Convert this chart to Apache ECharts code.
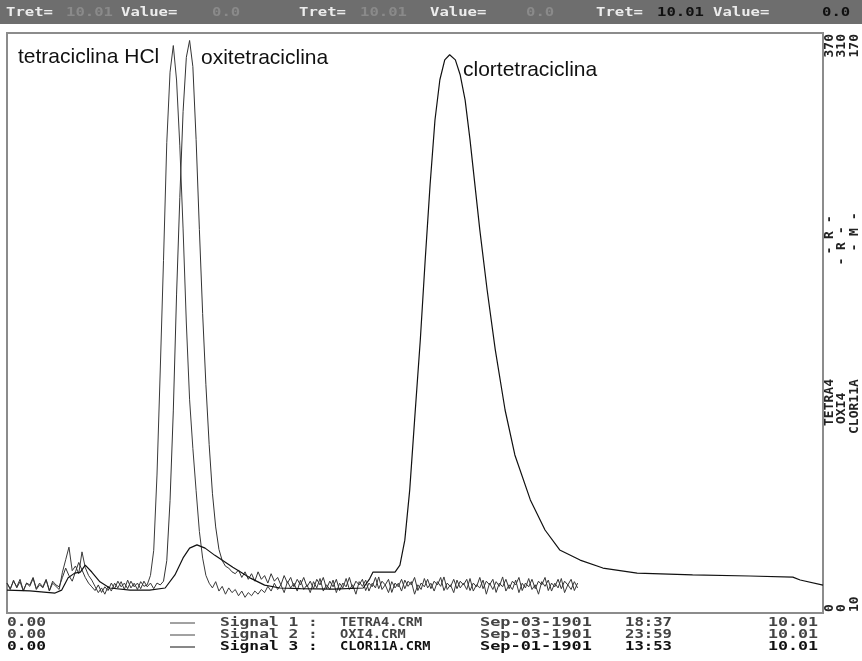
<!DOCTYPE html>
<html>
<head>
<meta charset="utf-8">
<script src="https://cdn.jsdelivr.net/npm/echarts@6/dist/echarts.min.js"></script>
<style>
  html, body { margin: 0; padding: 0; background: #fff; }
  #chart { width: 862px; height: 661px; }
</style>
</head>
<body>
<div id="chart"></div>
<script>
// detector sampling interval (min)
const sampleStep = 0.04;

// Signal 1 : TETRA4.CRM (0..370)
const tetraValues = [
  19,15,21,16,20,14,19,17,22,15,
  18,16,21,14,19,17,15,26,34,42,
  27,30,25,39,29,24,21,17,13,16,
  12,17,14,19,16,20,15,21,16,19,
  15,20,17,18,24,40,88,155,225,300,
  345,362,340,298,245,185,136,105,78,52,
  35,24,19,16,20,14,17,12,16,13,
  15,11,14,10,13,11,14,12,15,13,
  17,14,19,15,18,13,20,16,19,14,
  21,15,18,13,20,16,22,14,18,15,
  21,13,19,16,22,15,18,12,20,17,
  21,14,19,16,23,15,18,13,20,16,
  19,14,21,17,20,12,18,15,22,16,
  19,14,20,17,23,15,18,13,21,16,
  19,15,22,14,18,16,21,12,19,15,
  20,17,23,14,18,15,21,13,19,16,
  22,15,18,12,20,17,21,14,19,16,
  22,13,18,15,20,16
];

// Signal 2 : OXI4.CRM (0..310)
const oxiValues = [
  16,13,17,14,18,12,16,15,19,13,
  16,14,18,12,17,15,14,19,24,20,
  17,22,27,23,19,16,14,12,15,11,
  14,12,16,13,17,14,16,13,17,14,
  16,13,17,14,16,13,16,15,17,28,
  60,108,170,222,268,297,306,292,253,205,
  160,122,90,64,46,34,28,25,24,22,
  21,23,19,22,18,21,17,22,18,20,
  16,21,17,19,15,20,16,19,14,18,
  15,19,14,17,13,18,15,19,13,17,
  14,18,12,16,14,19,13,17,15,18,
  12,16,14,19,13,17,15,18,11,16,
  14,18,13,17,15,19,12,16,14,18,
  13,17,15,19,12,16,14,18,13,17,
  15,18,12,16,14,19,13,17,15,18,
  11,16,14,18,13,17,15,19,12,16,
  14,18,13,17,15,19,12,16,14,18,
  13,17,15,18,12,16
];

// Signal 3 : CLOR11A.CRM (10..170), [min, value]
const clorPoints = [
  [0,16.3],[0.28,16.1],[0.59,15.5],[0.67,16.3],[0.75,19.7],[0.83,21.0],[0.9,21.3],
  [0.96,23.2],[1.04,21.3],[1.14,18.6],[1.26,16.9],[1.51,16.3],[1.75,16.3],[1.94,16.9],
  [2.06,20.5],[2.16,25.2],[2.24,27.9],[2.33,28.8],[2.43,27.9],[2.55,25.9],[2.77,22.6],
  [2.98,19.7],[3.16,17.7],[3.35,16.9],[3.6,16.7],[4.0,16.6],[4.37,16.9],[4.45,19.5],
  [4.49,21.3],[4.76,21.3],[4.82,23.2],[4.88,30.1],[4.94,43.9],[5.0,63.2],[5.07,85.3],
  [5.13,107.4],[5.19,128.1],[5.25,146.0],[5.31,157.1],[5.37,162.6],[5.43,164.0],
  [5.5,162.6],[5.56,158.4],[5.62,151.5],[5.68,140.5],[5.74,128.1],[5.8,115.7],
  [5.89,99.1],[5.99,82.6],[6.11,66.0],[6.23,53.6],[6.42,41.2],[6.6,32.9],[6.78,27.4],
  [7.03,24.6],[7.31,22.4],[7.73,21.0],[8.41,20.5],[9.11,20.2],[9.64,19.9],[9.73,19.1],
  [10.01,17.7]
];

const signalRanges = [[0, 370], [0, 310], [10, 170]];
const signalFiles = ['TETRA4.CRM', 'OXI4.CRM', 'CLOR11A.CRM'];
const signalNames = ['TETRA4', 'OXI4', 'CLOR11A'];
const signalDates = ['Sep-03-1901', 'Sep-03-1901', 'Sep-01-1901'];
const signalTimes = ['18:37', '23:59', '13:53'];
const signalEnds = ['10.01', '10.01', '10.01'];
const peakLabels = ['tetraciclina HCl', 'oxitetraciclina', 'clortetraciclina'];

const chart = echarts.init(document.getElementById('chart'));

const withTime = vals => vals.map((v, i) => [+(i * sampleStep).toFixed(2), v]);

const mono = 'bold 13px "DejaVu Sans Mono", monospace';
const headFill = '#6e6e6e';

function txt(x, y, text, opts) {
  opts = opts || {};
  return {
    type: 'text', x: x, y: y,
    rotation: opts.rotation || 0,
    scaleX: opts.sx || 1,
    silent: true,
    style: {
      text: text,
      font: opts.font || mono,
      fill: opts.fill || '#222',
      align: opts.align || 'left',
      verticalAlign: opts.valign || 'middle'
    }
  };
}

const graphic = [];
// header bar
graphic.push({ type: 'rect', shape: { x: 0, y: 0, width: 862, height: 24 }, style: { fill: headFill }, silent: true });
const headWhite = '#ececec';
const headDim = '#8a8a8a';
const headItems = [
  [6, 'Tret=', headWhite], [66, '10.01', headDim], [121, 'Value=', headWhite], [212, '0.0', headDim],
  [299, 'Tret=', headWhite], [360, '10.01', headDim], [430, 'Value=', headWhite], [526, '0.0', headDim],
  [596, 'Tret=', headWhite], [657, '10.01', '#111'], [713, 'Value=', headWhite], [822, '0.0', '#111']
];
headItems.forEach(h => graphic.push(txt(h[0], 13, h[1], { fill: h[2], sx: 1.2 })));

// bottom signal table
const rowY = [623, 635, 647];
const rowFill = ['#444', '#444', '#111'];
for (let i = 0; i < 3; i++) {
  const y = rowY[i], f = rowFill[i];
  graphic.push(txt(7, y, '0.00', { fill: f, sx: 1.25 }));
  graphic.push({ type: 'line', shape: { x1: 170, y1: y, x2: 195, y2: y }, style: { stroke: f, lineWidth: 1 }, silent: true });
  graphic.push(txt(220, y, 'Signal ' + (i + 1) + ' :', { fill: f, sx: 1.25 }));
  graphic.push(txt(340, y, signalFiles[i], { fill: f, sx: 1.05 }));
  graphic.push(txt(480, y, signalDates[i], { fill: f, sx: 1.3 }));
  graphic.push(txt(625, y, signalTimes[i], { fill: f, sx: 1.2 }));
  graphic.push(txt(768, y, signalEnds[i], { fill: f, sx: 1.28 }));
}

// right side rotated scale labels
const colX = [830, 842, 855];
const rotFont = 'bold 13px "DejaVu Sans Mono", monospace';
const rdFlag = ['- R -', '- R -', '- M -'];
const rdY = [235, 246, 232];
const nameBottom = [426, 424, 434];
for (let i = 0; i < 3; i++) {
  graphic.push(txt(colX[i], 34, String(signalRanges[i][1]), { rotation: Math.PI / 2, align: 'right', font: rotFont, fill: '#222' }));
  graphic.push(txt(colX[i], 612, String(signalRanges[i][0]), { rotation: Math.PI / 2, align: 'left', font: rotFont, fill: '#222' }));
  graphic.push(txt(colX[i], rdY[i], rdFlag[i], { rotation: Math.PI / 2, align: 'center', font: rotFont, fill: '#222' }));
  graphic.push(txt(colX[i], nameBottom[i], signalNames[i], { rotation: Math.PI / 2, align: 'left', font: rotFont, fill: '#222' }));
}

// peak annotations
const sans = '21px "Liberation Sans", Arial, sans-serif';
graphic.push(txt(18, 57, peakLabels[0], { font: sans, fill: '#111' }));
graphic.push(txt(201, 58, peakLabels[1], { font: sans, fill: '#111' }));
graphic.push(txt(463, 70, peakLabels[2], { font: sans, fill: '#111' }));

const option = {
  animation: false,
  backgroundColor: '#fff',
  grid: { left: 7, right: 39, top: 33, bottom: 48, show: true, borderColor: '#8c8c8c', borderWidth: 2, backgroundColor: '#fff' },
  xAxis: { type: 'value', min: 0, max: 10.01, show: false },
  yAxis: signalRanges.map(r => ({ type: 'value', min: r[0], max: r[1], show: false, splitLine: { show: false } })),
  series: [
    { name: signalFiles[0], type: 'line', yAxisIndex: 0, data: withTime(tetraValues), symbol: 'none', lineStyle: { color: '#3a3a3a', width: 1 } },
    { name: signalFiles[1], type: 'line', yAxisIndex: 1, data: withTime(oxiValues), symbol: 'none', lineStyle: { color: '#333', width: 1 } },
    { name: signalFiles[2], type: 'line', yAxisIndex: 2, data: clorPoints, symbol: 'none', lineStyle: { color: '#111', width: 1.2 } }
  ],
  graphic: graphic
};
chart.setOption(option);
</script>
</body>
</html>
